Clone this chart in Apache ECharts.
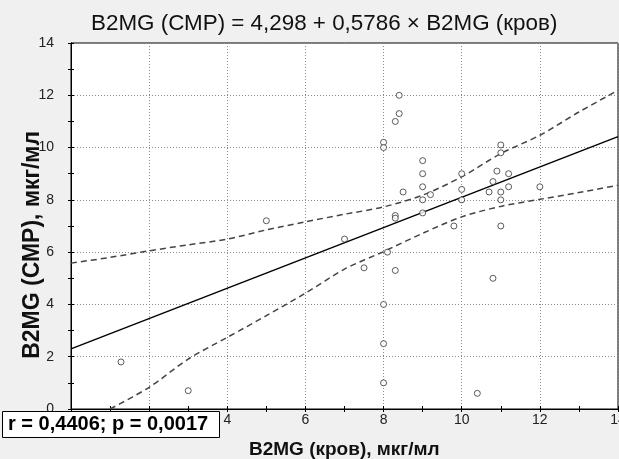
<!DOCTYPE html>
<html>
<head>
<meta charset="utf-8">
<script src="https://cdn.jsdelivr.net/npm/echarts@6/dist/echarts.min.js"></script>
<style>
html,body{margin:0;padding:0;background:#f0f0f0;}
#chart{width:619px;height:459px;}
</style>
</head>
<body>
<div id="chart"></div>
<script>
// Data
var titleText = 'B2MG (СМР) = 4,298 + 0,5786 × B2MG (кров)';
var xName = 'B2MG (кров), мкг/мл';
var yName = 'B2MG (СМР), мкг/мл';
var statText = 'r = 0,4406; p = 0,0017';

var xTicks = [0, 2, 4, 6, 8, 10, 12, 14];
var yTicks = [0, 2, 4, 6, 8, 10, 12, 14];

var bloodValues = [1.28, 3.0, 5.0, 7.0, 7.5, 8.0, 8.0, 8.0, 8.0, 8.0, 8.1, 8.3, 8.3, 8.3, 8.3, 8.4, 8.4, 8.5,
  9.0, 9.0, 9.0, 9.0, 9.0, 9.2, 9.8, 10.0, 10.0, 10.0, 10.4, 10.7, 10.8, 10.8, 10.9, 11.0, 11.0, 11.0, 11.0, 11.0,
  11.2, 11.2, 12.0];
var csfValues = [1.8, 0.7, 7.2, 6.5, 5.4, 10.2, 10.0, 4.0, 2.5, 1.0, 6.0, 11.0, 7.4, 7.3, 5.3, 12.0, 11.3, 8.3,
  9.5, 9.0, 8.5, 8.0, 7.5, 8.2, 7.0, 9.0, 8.4, 8.0, 0.6, 8.3, 8.7, 5.0, 9.1, 10.1, 9.8, 8.3, 8.0, 7.0,
  9.0, 8.5, 8.5];

var fitX = [0, 14];
var fitY = [2.30, 10.42];

var upperX = [0, 1, 2, 3, 4, 5, 6, 7, 8, 9, 10, 11, 12, 13, 14];
var upperY = [5.58, 5.8, 6.05, 6.28, 6.5, 6.85, 7.16, 7.45, 7.73, 8.18, 8.88, 9.77, 10.47, 11.36, 12.19];
var lowerX = [1, 2, 3, 4, 5, 6, 7, 8, 9, 10, 11, 12, 13, 14];
var lowerY = [0.0, 0.83, 1.91, 2.74, 3.57, 4.43, 5.35, 6.02, 6.72, 7.35, 7.75, 8.02, 8.28, 8.56];

function zip(a, b) { return a.map(function (v, i) { return [v, b[i]]; }); }

var FONT = '"Liberation Sans", Arial, sans-serif';
var chart = echarts.init(document.getElementById('chart'), null, {renderer: 'canvas'});

var gridL = 71, gridT = 43, gridR = 1, gridB = 50;

function baseAxis(extra) {
  var o = {
    type: 'value', min: 0, max: 14, interval: 2,
    axisLine: {show: true, lineStyle: {color: '#000', width: 1}},
    axisTick: {show: true, inside: true, length: 3, lineStyle: {color: '#000'}},
    minorTick: {show: true, splitNumber: 2, length: 3, lineStyle: {color: '#000'}},
    splitLine: {show: false},
    axisLabel: {show: false}
  };
  for (var k in extra) o[k] = extra[k];
  return o;
}

var option = {
  backgroundColor: '#f0f0f0',
  animation: false,
  title: {
    text: titleText,
    left: 86, top: 8,
    textStyle: {fontFamily: FONT, fontSize: 22.4, fontWeight: 'normal', color: '#111'}
  },
  grid: {left: gridL, top: gridT, right: gridR, bottom: gridB, show: true,
    containLabel: false, outerBoundsMode: 'none',
    backgroundColor: '#fff', borderColor: '#000', borderWidth: 1},
  xAxis: [
    baseAxis({position: 'bottom',
      splitLine: {show: true, lineStyle: {color: '#8a8a8a', width: 1, type: [1, 2]}},
      axisLabel: {show: true, fontFamily: FONT, fontSize: 14, color: '#222', margin: 4,
        hideOverlap: false,
        formatter: function (v) { return xTicks.indexOf(v) >= 0 ? String(v) : ''; }}
    }),
    baseAxis({position: 'top'})
  ],
  yAxis: [
    baseAxis({position: 'left',
      splitLine: {show: true, lineStyle: {color: '#8a8a8a', width: 1, type: [1, 2]}},
      axisLabel: {show: true, fontFamily: FONT, fontSize: 14, color: '#222', margin: 17,
        formatter: function (v) { return yTicks.indexOf(v) >= 0 ? String(v) : ''; }}
    }),
    baseAxis({position: 'right'})
  ],
  series: [
    {
      type: 'line', data: zip(upperX, upperY), symbol: 'none', smooth: 0.3, clip: true,
      lineStyle: {color: '#444', width: 1.5, type: [6, 4]}, z: 3
    },
    {
      type: 'line', data: zip(lowerX, lowerY), symbol: 'none', smooth: 0.3, clip: true,
      lineStyle: {color: '#444', width: 1.5, type: [6, 4]}, z: 3
    },
    {
      type: 'line', data: zip(fitX, fitY), symbol: 'none',
      lineStyle: {color: '#000', width: 1.5}, z: 4
    },
    {
      type: 'scatter', data: zip(bloodValues, csfValues), symbol: 'circle', symbolSize: 6,
      itemStyle: {color: '#fff', borderColor: '#333', borderWidth: 1}, z: 5
    }
  ],
  graphic: [
    {
      type: 'text', left: 21, top: 131, rotation: Math.PI / 2,
      style: {text: yName, fontFamily: FONT, fontSize: 23, fontWeight: 'bold', fill: '#111'},
      z: 10
    },
    {
      type: 'text', left: 249, top: 440,
      style: {text: xName, fontFamily: FONT, fontSize: 19, fontWeight: 'bold', fill: '#111'},
      z: 10
    },
    {
      type: 'rect', left: 2, top: 411, z: 100, zlevel: 5,
      shape: {width: 217, height: 26},
      style: {fill: '#fff', stroke: '#000', lineWidth: 1}
    },
    {
      type: 'text', left: 8, top: 414, z: 101, zlevel: 5,
      style: {text: statText, fontFamily: FONT, fontSize: 20, fontWeight: 'bold', fill: '#000'}
    }
  ]
};
chart.setOption(option);
</script>
</body>
</html>
